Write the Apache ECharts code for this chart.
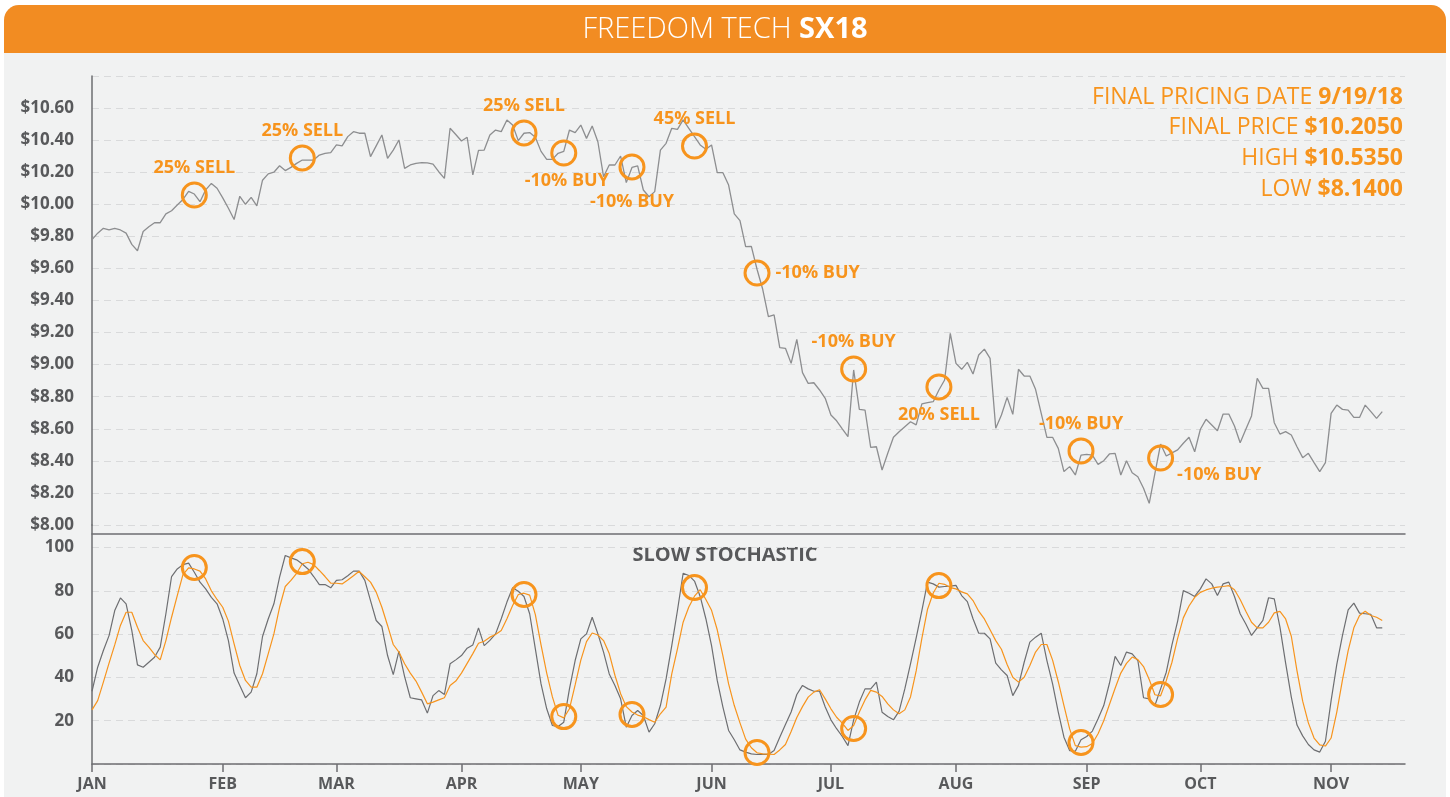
<!DOCTYPE html>
<html>
<head>
<meta charset="utf-8">
<title>Freedom Tech SX18</title>
<script src="https://cdn.jsdelivr.net/npm/echarts@6.0.0/dist/echarts.min.js"></script>
<style>
  html, body { margin: 0; padding: 0; background: #fff; }
  #chart { width: 1450px; height: 797px; }
</style>
</head>
<body>
<div id="chart"></div>
<script>
// month ticks (index of first weekday of each month, Jan 1 = 0)
const monthLabels = ['JAN', 'FEB', 'MAR', 'APR', 'MAY', 'JUN', 'JUL', 'AUG', 'SEP', 'OCT', 'NOV'];
const monthStarts = [0, 23, 43, 65, 86, 109, 130, 152, 175, 195, 218];
const dayCount = 232;
const days = Array.from({ length: dayCount }, (_, i) => String(i));

// daily closing price
const price = [
  9.78, 9.82, 9.85, 9.84, 9.85, 9.84, 9.82, 9.75, 9.71, 9.83,
  9.86, 9.885, 9.885, 9.94, 9.96, 9.995, 10.03, 10.08, 10.064, 10.016,
  10.09, 10.13, 10.10, 10.04, 9.975, 9.905, 10.05, 10.00, 10.043, 9.99,
  10.15, 10.19, 10.20, 10.24, 10.21, 10.23, 10.255, 10.276, 10.276, 10.276,
  10.307, 10.318, 10.322, 10.37, 10.364, 10.422, 10.453, 10.443, 10.443, 10.297,
  10.364, 10.432, 10.287, 10.338, 10.401, 10.224, 10.245, 10.255, 10.26, 10.258,
  10.251, 10.203, 10.162, 10.474, 10.435, 10.395, 10.418, 10.183, 10.336, 10.338,
  10.432, 10.463, 10.453, 10.526, 10.494, 10.397, 10.443, 10.447, 10.418, 10.33,
  10.28, 10.28, 10.318, 10.33, 10.463, 10.447, 10.494, 10.411, 10.488, 10.39,
  10.172, 10.245, 10.245, 10.301, 10.135, 10.23, 10.239, 10.089, 10.047, 10.079,
  10.338, 10.38, 10.474, 10.467, 10.526, 10.474, 10.422, 10.37, 10.343, 10.37,
  10.197, 10.197, 10.12, 9.94, 9.898, 9.736, 9.738, 9.595, 9.47, 9.299,
  9.31, 9.106, 9.102, 9.008, 9.158, 8.95, 8.883, 8.887, 8.842, 8.79,
  8.686, 8.65, 8.60, 8.551, 8.967, 8.721, 8.717, 8.484, 8.488, 8.343,
  8.447, 8.547, 8.582, 8.613, 8.644, 8.624, 8.755, 8.763, 8.769, 8.842,
  8.904, 9.195, 9.008, 8.971, 9.014, 8.942, 9.06, 9.097, 9.039, 8.603,
  8.686, 8.796, 8.69, 8.971, 8.929, 8.929, 8.846, 8.696, 8.547, 8.547,
  8.478, 8.333, 8.364, 8.312, 8.436, 8.441, 8.436, 8.378, 8.401, 8.443,
  8.447, 8.312, 8.401, 8.326, 8.301, 8.229, 8.135, 8.322, 8.505, 8.43,
  8.45, 8.468, 8.51, 8.547, 8.457, 8.597, 8.659, 8.624, 8.588, 8.692,
  8.692, 8.617, 8.513, 8.597, 8.68, 8.915, 8.852, 8.852, 8.638, 8.567,
  8.582, 8.561, 8.488, 8.42, 8.447, 8.389, 8.333, 8.389, 8.696, 8.748,
  8.721, 8.717, 8.671, 8.671, 8.748, 8.707, 8.665, 8.707
];

// slow stochastic %K (grey) and %D (orange)
const stochK = [
  33.6, 44.7, 52.4, 59.3, 70.9, 76.7, 74, 61.7, 45.8, 44.7,
  47, 49.3, 54, 69.4, 86.6, 90.1, 92.1, 92.8, 88.6, 84,
  80.9, 77, 74, 67, 57, 42, 36.3, 30.6, 33.2, 41.7,
  58.9, 67, 74, 86.3, 96.3, 95.2, 94.3, 92.4, 90.1, 86.6,
  82.9, 82.9, 81.4, 84.8, 85.1, 87, 89.1, 89.1, 84.8, 75.5,
  66.3, 63.5, 50.1, 41.3, 52.1, 40.4, 30.6, 30.1, 29.6, 23.5,
  31.6, 33.9, 32.1, 46.3, 48.1, 50.1, 53.5, 55, 62.9, 54.7,
  57.1, 60.1, 67.1, 74.8, 81.4, 79.8, 77.4, 69.4, 53.2, 37,
  25.5, 17.8, 17.3, 19.3, 34.7, 47.8, 57.8, 60.1, 67.8, 60.1,
  51.7, 41.6, 36.3, 30.1, 17, 22.4, 24.7, 22.4, 14.7, 18.6,
  27, 39.3, 54.7, 70.9, 88.1, 87.1, 84.5, 77.4, 67.1, 54.7,
  38.6, 26.3, 15.5, 11.2, 6.5, 5.5, 4.7, 4.4, 4.4, 4.4,
  6.2, 12.4, 18.2, 24, 32.1, 36.3, 34.7, 33.6, 33.6, 26.3,
  20.4, 16.3, 12.7, 8.5, 20.4, 28.6, 34.7, 34.7, 37.8, 23.9,
  21.9, 20.4, 24.4, 34.7, 46.3, 58.3, 70.9, 84, 83.2, 81.7,
  82, 82.2, 82.5, 77.8, 75, 67.1, 60.4, 60.4, 57.8, 46.6,
  43.5, 40.9, 31.6, 36.3, 47, 56.3, 58.6, 60.4, 47.8, 37,
  24, 12.4, 6.2, 5.9, 11.2, 12.7, 15.2, 20.9, 27, 37.3,
  49.7, 45.5, 51.7, 50.9, 47.8, 30.6, 30.1, 27, 34.7, 42.4,
  55, 66, 80.1, 78.9, 77.4, 80.9, 85.5, 83.2, 77.8, 83.2,
  84, 77.4, 69.4, 64.7, 59.4, 62.9, 66.3, 76.8, 76.3, 63.2,
  46.6, 30.9, 18, 13, 9, 6.5, 5.5, 10.5, 29.3, 46,
  59.4, 71.2, 74.3, 69.7, 69.4, 69.1, 62.9, 62.9
];
const stochD = [
  25, 29.3, 37.8, 46.6, 55, 64, 70.1, 70.1, 63.2, 57,
  54, 50.6, 48.1, 57, 67.8, 77.8, 87.5, 90.6, 90.1, 89.1,
  85.5, 80, 76, 72.4, 66, 55.5, 45.5, 38.6, 35.5, 35.5,
  41.7, 50.9, 60.1, 72.4, 82, 84.8, 88.1, 92.5, 93.2, 92.1,
  89.4, 86.6, 83.5, 83.5, 83.2, 85, 87, 89, 86.5, 84,
  79.4, 72.4, 64, 55.2, 51.7, 46.3, 42, 38.3, 33.2, 27.8,
  28.6, 29.6, 30.6, 36.3, 38.3, 42, 46.5, 51, 55.8, 56.7,
  58.6, 59.8, 61.7, 67.1, 73.2, 78.3, 78.9, 78, 69, 55,
  42, 31, 22.5, 21.3, 25.5, 36.5, 48, 56.5, 60.5, 59.6,
  57, 51, 41, 32.5, 26.5, 24, 22.6, 21.8, 20.5, 19.3,
  23.2, 26.3, 41.6, 53.2, 65.5, 72.5, 77.5, 80.5, 76, 71,
  62, 50, 37, 27, 19, 11.5, 7.5, 5.2, 4.7, 4.6,
  4.4, 6.5, 9, 15, 21.5, 26.5, 30.9, 33.2, 34.3, 30.1,
  25.5, 21.6, 18.9, 15.5, 17.8, 24, 29.6, 34, 33.2, 31.2,
  27.8, 25, 23.2, 25, 31, 43, 58, 71.5, 79, 83.5,
  83, 81.5, 80.9, 79.5, 78.6, 75.5, 70.6, 67, 62, 57,
  53, 46, 40.1, 37.8, 40.1, 45.5, 51.7, 55.2, 55.2, 48,
  38, 27, 16.2, 8.5, 7.8, 8, 9.5, 14, 20, 27.5,
  35, 42, 46.5, 49.4, 48.2, 45, 39, 32, 31.5, 38.5,
  47, 58, 67.5, 73, 77, 79.3, 80.4, 81.2, 81.7, 82,
  82.4, 80.5, 76, 70.6, 65.5, 62.9, 62.9, 65.5, 69.8, 70.5,
  67, 59, 43, 29, 19, 12, 8.8, 8.3, 12, 24,
  38.9, 52.4, 62.9, 68.6, 70.6, 68.6, 67.8, 66.3
];

// trade signals
const sigIdx = [17.6, 36.8, 75.7, 83.2, 95, 106.4, 117, 133.5, 149.2, 174, 187.5];
const sigPrice = [10.058, 10.289, 10.445, 10.32, 10.233, 10.363, 9.571, 8.973, 8.861, 8.462, 8.418];
const sigStoch = [90.8, 93.5, 78.3, 21.9, 22.9, 81.5, 5.3, 16.4, 82.4, 9.9, 32.1];
const sigText = ['25% SELL', '25% SELL', '25% SELL', '-10% BUY', '-10% BUY', '45% SELL',
  '-10% BUY', '-10% BUY', '20% SELL', '-10% BUY', '-10% BUY'];

const infoLabels = ['FINAL PRICING DATE', 'FINAL PRICE', 'HIGH', 'LOW'];
const infoValues = ['9/19/18', '$10.2050', '$10.5350', '$8.1400'];

// label placement for each signal (style only)
const sigLabelPos = ['top', 'top', 'top', 'bottom', 'bottom', 'top', 'right', 'top', 'bottom', 'top', 'right'];
const sigLabelOffset = [[0, 0], [0, 0], [0, 0], [3, 0], [0, 7], [0, 0], [0, 0], [0, 0], [0, 0], [0, 0], [-2, 17]];

const ORANGE = '#f7941d';
const BAR = '#f28c22';
const GREY_TXT = '#58595b';
const AXIS = '#6d6e71';
const SPLIT = '#d9dadb';
const FONT = '"Open Sans", Lato, sans-serif';

const chart = echarts.init(document.getElementById('chart'), null, { renderer: 'canvas' });

const isMonthStart = (idx) => monthStarts.indexOf(idx) !== -1;

const splitLine = {
  show: true,
  lineStyle: { color: SPLIT, type: [7, 5], width: 1 }
};

const infoGraphics = infoLabels.map((lab, k) => ({
  type: 'text',
  x: 1403,
  y: 97 + k * 30.8,
  style: {
    text: '{a|' + lab + ' }{b|' + infoValues[k] + '}',
    align: 'right',
    textAlign: 'right',
    verticalAlign: 'middle',
    textVerticalAlign: 'middle',
    rich: {
      a: { fontSize: 23, fill: ORANGE, fontFamily: FONT },
      b: { fontSize: 23, fill: ORANGE, fontWeight: 'bold', fontFamily: FONT }
    }
  }
}));

const option = {
  animation: false,
  backgroundColor: '#ffffff',
  graphic: {
    elements: [
      {
        type: 'rect', z: -10, silent: true,
        shape: { x: 4, y: 5, width: 1442, height: 800, r: [15, 15, 0, 0] },
        style: { fill: '#f1f2f2' }
      },
      {
        type: 'rect', z: -9, silent: true,
        shape: { x: 4, y: 5, width: 1442, height: 48, r: [15, 15, 0, 0] },
        style: { fill: BAR }
      },
      {
        type: 'text', x: 725, y: 30,
        style: {
          text: '{a|FREEDOM TECH }{b|SX18}',
          align: 'center', textAlign: 'center',
          verticalAlign: 'middle', textVerticalAlign: 'middle',
          rich: {
            a: { fontSize: 29, fill: '#ffffff', fontWeight: 300, fontFamily: FONT },
            b: { fontSize: 29, fill: '#ffffff', fontWeight: 'bold', fontFamily: FONT }
          }
        }
      },
      {
        type: 'text', x: 725, y: 555,
        style: {
          text: 'SLOW STOCHASTIC',
          fill: GREY_TXT,
          font: 'bold 20px ' + FONT,
          align: 'center', textAlign: 'center',
          verticalAlign: 'middle', textVerticalAlign: 'middle'
        }
      }
    ].concat(infoGraphics)
  },
  grid: [
    { left: 92, right: 45, top: 76, bottom: 272 },
    { left: 92, right: 45, top: 525, bottom: 33 }
  ],
  xAxis: [
    {
      gridIndex: 0,
      type: 'category',
      data: days,
      boundaryGap: false,
      offset: 9,
      axisLine: { show: true, onZero: false, lineStyle: { color: AXIS, width: 1.5 } },
      axisTick: { show: false },
      axisLabel: { show: false },
      splitLine: { show: false }
    },
    {
      gridIndex: 1,
      type: 'category',
      data: days,
      boundaryGap: false,
      axisLine: { show: true, onZero: false, lineStyle: { color: AXIS, width: 1.5 } },
      axisTick: { show: true, interval: isMonthStart, length: 8, lineStyle: { color: AXIS, width: 1.5 } },
      axisLabel: {
        show: true,
        interval: isMonthStart,
        formatter: (val, idx) => monthLabels[monthStarts.indexOf(Number(val))] || '',
        color: GREY_TXT,
        fontWeight: 'bold',
        fontSize: 16,
        fontFamily: FONT,
        margin: 12
      },
      splitLine: { show: false }
    }
  ],
  yAxis: [
    {
      gridIndex: 0,
      type: 'value',
      min: 8,
      max: 10.8,
      interval: 0.2,
      axisLine: { show: true, lineStyle: { color: AXIS, width: 1.5 } },
      axisTick: { show: false },
      axisLabel: {
        showMaxLabel: false,
        formatter: (v) => '$' + v.toFixed(2),
        color: GREY_TXT,
        fontWeight: 'bold',
        fontSize: 17,
        fontFamily: FONT,
        margin: 18
      },
      splitLine: splitLine
    },
    {
      gridIndex: 1,
      type: 'value',
      min: 0,
      max: 110.4,
      interval: 20,
      axisLine: { show: true, lineStyle: { color: AXIS, width: 1.5 } },
      axisTick: { show: false },
      axisLabel: {
        showMinLabel: false,
        showMaxLabel: false,
        color: GREY_TXT,
        fontWeight: 'bold',
        fontSize: 17,
        fontFamily: FONT,
        margin: 18
      },
      splitLine: splitLine
    }
  ],
  series: [
    {
      name: 'Price',
      type: 'line',
      xAxisIndex: 0,
      yAxisIndex: 0,
      data: price,
      symbol: 'none',
      lineStyle: { color: '#8d8e90', width: 1.3 },
      z: 3
    },
    {
      name: '%K',
      type: 'line',
      xAxisIndex: 1,
      yAxisIndex: 1,
      data: stochK,
      symbol: 'none',
      lineStyle: { color: AXIS, width: 1.2 },
      z: 3
    },
    {
      name: '%D',
      type: 'line',
      xAxisIndex: 1,
      yAxisIndex: 1,
      data: stochD,
      symbol: 'none',
      lineStyle: { color: ORANGE, width: 1.2 },
      z: 4
    },
    {
      name: 'Signals',
      type: 'scatter',
      xAxisIndex: 0,
      yAxisIndex: 0,
      symbol: 'circle',
      symbolSize: 24,
      itemStyle: { color: 'rgba(0,0,0,0)', borderColor: ORANGE, borderWidth: 3, opacity: 1 },
      label: {
        show: true,
        formatter: (p) => sigText[p.dataIndex],
        color: ORANGE,
        fontWeight: 'bold',
        fontSize: 18,
        fontFamily: FONT,
        distance: 5
      },
      data: sigIdx.map((x, k) => ({
        value: [x, sigPrice[k]],
        label: { position: sigLabelPos[k], offset: sigLabelOffset[k] }
      })),
      z: 6
    },
    {
      name: 'Signals stoch',
      type: 'scatter',
      xAxisIndex: 1,
      yAxisIndex: 1,
      symbol: 'circle',
      symbolSize: 24,
      itemStyle: { color: 'rgba(0,0,0,0)', borderColor: ORANGE, borderWidth: 3, opacity: 1 },
      data: sigIdx.map((x, k) => [x, sigStoch[k]]),
      z: 6
    }
  ]
};

chart.setOption(option);
</script>
</body>
</html>
